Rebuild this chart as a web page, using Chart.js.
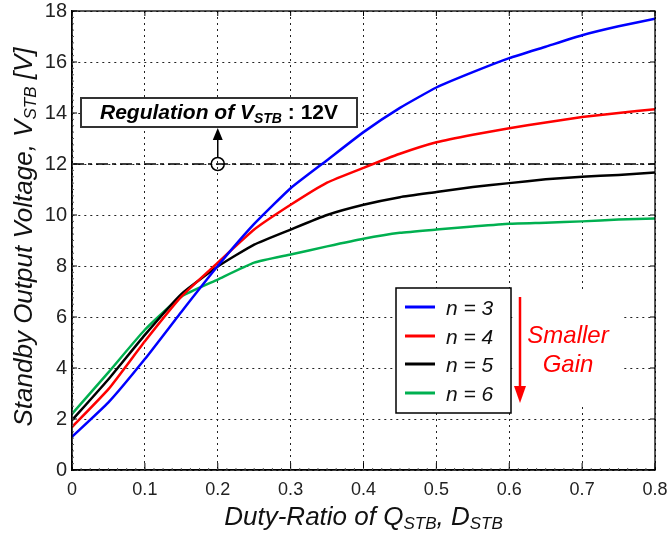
<!DOCTYPE html>
<html>
<head>
<meta charset="utf-8">
<script src="https://cdn.jsdelivr.net/npm/chart.js@4.4.1/dist/chart.umd.min.js"></script>
<style>
html, body { margin: 0; padding: 0; background: #fff; }
#wrap { width: 669px; height: 536px; }
</style>
</head>
<body>
<div id="wrap"><canvas id="vstb" width="669" height="536"></canvas></div>
<script>
// duty ratio D_STB and standby output voltage V_STB for each turns ratio n
var dutyRatio = [0, 0.05, 0.1, 0.15, 0.2, 0.25, 0.3, 0.35, 0.4, 0.45, 0.5, 0.55, 0.6, 0.65, 0.7, 0.75, 0.8];
var vN3 = [1.3, 2.65, 4.35, 6.2, 8.0, 9.65, 11.05, 12.15, 13.25, 14.2, 15.0, 15.6, 16.15, 16.6, 17.05, 17.4, 17.7];
var vN4 = [1.68, 3.17, 5.05, 6.8, 8.13, 9.43, 10.4, 11.27, 11.85, 12.4, 12.85, 13.15, 13.4, 13.63, 13.84, 14.0, 14.15];
var vN5 = [1.95, 3.56, 5.3, 6.9, 7.98, 8.84, 9.43, 10.0, 10.4, 10.7, 10.9, 11.1, 11.25, 11.4, 11.5, 11.57, 11.67];
var vN6 = [2.2, 3.83, 5.5, 6.8, 7.47, 8.13, 8.45, 8.77, 9.07, 9.3, 9.43, 9.55, 9.66, 9.7, 9.75, 9.82, 9.86];
var regulationV = 12;
var regulationD = 0.2;

var seriesNames = ['n = 3', 'n = 4', 'n = 5', 'n = 6'];
var seriesColors = ['rgb(0, 0, 255)', 'rgb(255, 0, 0)', 'rgb(0, 0, 0)', 'rgb(0, 176, 80)'];
var xTickLabels = ['0', '0.1', '0.2', '0.3', '0.4', '0.5', '0.6', '0.7', '0.8'];
var yTickLabels = ['0', '2', '4', '6', '8', '10', '12', '14', '16', '18'];

function toPoints(ys) {
    return dutyRatio.map(function (x, i) { return { x: x, y: ys[i] }; });
}

// text with subscripts: parts = [[text, font, dy], ...]
function drawRich(ctx, parts, x, y, align) {
    var total = 0;
    parts.forEach(function (p) { ctx.font = p[1]; total += ctx.measureText(p[0]).width; });
    var cx = align === 'center' ? x - total / 2 : x;
    ctx.textAlign = 'left';
    ctx.textBaseline = 'alphabetic';
    parts.forEach(function (p) {
        ctx.font = p[1];
        ctx.fillText(p[0], cx, y + (p[2] || 0));
        cx += ctx.measureText(p[0]).width;
    });
}

var MAIN = 'italic 26px "Liberation Sans", Arial, sans-serif';
var SUB = 'italic 17px "Liberation Sans", Arial, sans-serif';

var decorations = {
    id: 'decorations',
    afterDraw: function (chart) {
        var ctx = chart.ctx;
        var ca = chart.chartArea;
        var xs = chart.scales.x, ys = chart.scales.y;
        ctx.save();

        // frame and inward ticks
        ctx.strokeStyle = '#000';
        ctx.lineWidth = 1.3;
        ctx.setLineDash([]);
        ctx.strokeRect(ca.left, ca.top, ca.right - ca.left, ca.bottom - ca.top);
        ctx.lineWidth = 1;
        ctx.beginPath();
        xs.ticks.forEach(function (t) {
            var px = xs.getPixelForValue(t.value);
            ctx.moveTo(px, ca.bottom); ctx.lineTo(px, ca.bottom - 7);
            ctx.moveTo(px, ca.top); ctx.lineTo(px, ca.top + 5);
        });
        ys.ticks.forEach(function (t) {
            var py = ys.getPixelForValue(t.value);
            ctx.moveTo(ca.left, py); ctx.lineTo(ca.left + 5, py);
            ctx.moveTo(ca.right, py); ctx.lineTo(ca.right - 5, py);
        });
        ctx.stroke();
        ctx.strokeStyle = '#555';
        ctx.beginPath();
        for (var i = 1; i < 64; i++) {
            var mx = xs.getPixelForValue(0.8 * i / 64);
            ctx.moveTo(mx, ca.bottom); ctx.lineTo(mx, ca.bottom - 2);
        }
        for (var j = 1; j < 72; j++) {
            var my = ys.getPixelForValue(18 * j / 72);
            ctx.moveTo(ca.left, my); ctx.lineTo(ca.left + 2, my);
        }
        ctx.stroke();

        // axis titles
        ctx.fillStyle = '#111';
        drawRich(ctx, [['Duty-Ratio of Q', MAIN], ['STB', SUB, 4], [', D', MAIN], ['STB', SUB, 4]],
            (ca.left + ca.right) / 2, 525, 'center');
        ctx.save();
        ctx.translate(32, 237);
        ctx.rotate(-Math.PI / 2);
        drawRich(ctx, [['Standby Output Voltage, V', MAIN], ['STB', SUB, 4], [' [V]', MAIN]], 0, 0, 'center');
        ctx.restore();

        // regulation annotation box
        var bx1 = ca.left + 9, bx2 = ca.left + 285, by1 = 98, by2 = 127;
        ctx.fillStyle = '#fff';
        ctx.fillRect(bx1, by1, bx2 - bx1, by2 - by1);
        ctx.strokeStyle = '#333';
        ctx.lineWidth = 2;
        ctx.strokeRect(bx1, by1, bx2 - bx1, by2 - by1);
        ctx.fillStyle = '#000';
        drawRich(ctx, [
            ['Regulation of V', 'italic bold 21px "Liberation Sans", Arial, sans-serif'],
            ['STB', 'italic bold 14px "Liberation Sans", Arial, sans-serif', 4],
            [' : 12V', 'bold 21px "Liberation Sans", Arial, sans-serif']
        ], (bx1 + bx2) / 2, 119, 'center');

        // circle on 12V line with arrow to box
        var cx = xs.getPixelForValue(regulationD), cy = ys.getPixelForValue(regulationV);
        ctx.strokeStyle = '#000';
        ctx.lineWidth = 1.5;
        ctx.beginPath();
        ctx.arc(cx, cy, 6.5, 0, Math.PI * 2);
        ctx.stroke();
        ctx.beginPath();
        ctx.moveTo(cx, cy - 6.5);
        ctx.lineTo(cx, by2 + 10);
        ctx.stroke();
        ctx.beginPath();
        ctx.moveTo(cx, by2 + 1);
        ctx.lineTo(cx - 5, by2 + 13);
        ctx.lineTo(cx + 5, by2 + 13);
        ctx.closePath();
        ctx.fill();

        // legend
        var lx = ca.left + 324, ly = 288;
        ctx.fillStyle = '#fff';
        ctx.fillRect(lx, ly, 115, 125);
        ctx.strokeStyle = '#000';
        ctx.lineWidth = 1.5;
        ctx.strokeRect(lx, ly, 115, 125);
        var rowY = [307, 336, 364, 393];
        seriesNames.forEach(function (name, k) {
            ctx.strokeStyle = seriesColors[k];
            ctx.lineWidth = 3;
            ctx.beginPath();
            ctx.moveTo(lx + 9, rowY[k]);
            ctx.lineTo(lx + 39, rowY[k]);
            ctx.stroke();
            ctx.fillStyle = '#111';
            ctx.font = 'italic 21px "Liberation Sans", Arial, sans-serif';
            ctx.textAlign = 'left';
            ctx.textBaseline = 'alphabetic';
            ctx.fillText(name, lx + 50, rowY[k] + 8);
        });

        // "Smaller Gain" arrow on a white patch
        var ax = ca.left + 448;
        ctx.fillStyle = '#fff';
        ctx.fillRect(ax - 7, 293, 111, 114);
        ctx.strokeStyle = 'rgb(255, 0, 0)';
        ctx.fillStyle = 'rgb(255, 0, 0)';
        ctx.lineWidth = 2.5;
        ctx.beginPath();
        ctx.moveTo(ax, 297);
        ctx.lineTo(ax, 390);
        ctx.stroke();
        ctx.beginPath();
        ctx.moveTo(ax, 403);
        ctx.lineTo(ax - 6, 386);
        ctx.lineTo(ax + 6, 386);
        ctx.closePath();
        ctx.fill();
        ctx.font = 'italic 24px "Liberation Sans", Arial, sans-serif';
        ctx.textAlign = 'center';
        ctx.fillText('Smaller', 568, 343);
        ctx.fillText('Gain', 568, 372);

        ctx.restore();
    }
};

var datasets = [vN3, vN4, vN5, vN6].map(function (vals, k) {
    return {
        label: seriesNames[k],
        data: toPoints(vals),
        borderColor: seriesColors[k],
        borderWidth: 2.5,
        pointRadius: 0,
        tension: 0.15,
        order: 1
    };
});
datasets.push({
    label: 'Regulation',
    data: [{ x: dutyRatio[0], y: regulationV }, { x: dutyRatio[dutyRatio.length - 1], y: regulationV }],
    borderColor: '#000',
    borderWidth: 1.5,
    borderDash: [12, 4, 4, 4],
    pointRadius: 0,
    order: 10
});

var vstbChart = new Chart(document.getElementById('vstb'), {
    type: 'line',
    data: { datasets: datasets },
    options: {
        responsive: false,
        animation: false,
        layout: { padding: { top: 11, right: 14, left: 0, bottom: 0 } },
        plugins: { legend: { display: false }, tooltip: { enabled: false } },
        scales: {
            x: {
                type: 'linear',
                min: 0,
                max: 0.8,
                afterFit: function (scale) {
                    scale.height = 66;
                    scale.paddingLeft = 0;
                    scale.paddingRight = 0;
                },
                ticks: {
                    stepSize: 0.1,
                    padding: 9,
                    color: '#222',
                    font: { family: '"Liberation Sans", Arial, sans-serif', size: 18 },
                    maxRotation: 0,
                    callback: function (value, index) { return xTickLabels[index]; }
                },
                grid: { color: '#222', lineWidth: 1, drawTicks: false },
                border: { color: '#000', width: 1.3, dash: [2, 4] }
            },
            y: {
                min: 0,
                max: 18,
                afterFit: function (scale) {
                    scale.width = 72;
                    scale.paddingTop = 0;
                    scale.paddingBottom = 0;
                },
                ticks: {
                    stepSize: 2,
                    padding: 5,
                    color: '#222',
                    font: { family: '"Liberation Sans", Arial, sans-serif', size: 20 },
                    callback: function (value, index) { return yTickLabels[index]; }
                },
                grid: { color: '#222', lineWidth: 1, drawTicks: false },
                border: { color: '#000', width: 1.3, dash: [2, 4] }
            }
        }
    },
    plugins: [decorations]
});
</script>
</body>
</html>
